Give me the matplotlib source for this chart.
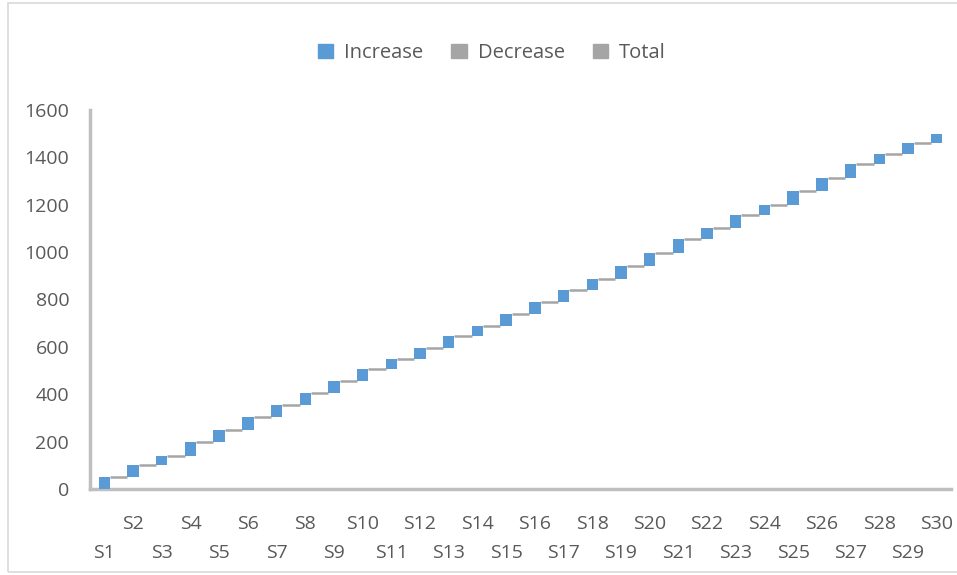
import matplotlib.pyplot as plt
import matplotlib.patches as mpatches
import numpy as np

plt.rcParams["font.family"] = ["Open Sans", "DejaVu Sans"]

# waterfall steps, one per sample
labels = ["S%d" % i for i in range(1, 31)]
increase = [50, 50, 40, 60, 50, 55, 50, 50, 50, 50,
            45, 45, 50, 45, 50, 50, 50, 45, 55, 55,
            60, 45, 55, 45, 60, 55, 55, 45, 45, 40]
y_ticks = [0, 200, 400, 600, 800, 1000, 1200, 1400, 1600]

blue = "#5B9BD5"
grey = "#A5A5A5"
text_col = "#595959"

inc = np.array(increase)
top = np.cumsum(inc)
base = top - inc
x = np.arange(len(labels))

fig = plt.figure(figsize=(9.57, 5.75), dpi=100)
ax = fig.add_axes([90 / 957, 1 - 489 / 575, 861 / 957, 379 / 575])

bar_w = 0.4
ax.bar(x, inc, bottom=base, width=bar_w, color=blue, zorder=3)

# connectors from each bar top to the next bar
for i in range(len(x) - 1):
    ax.plot([x[i] + bar_w / 2, x[i + 1] - bar_w / 2], [top[i], top[i]],
            color=grey, lw=1.8, zorder=2, solid_capstyle="butt")

ax.set_xlim(-0.5, len(x) - 0.5)
ax.set_ylim(0, 1600)
ax.set_yticks(y_ticks)
ax.tick_params(axis="y", length=0, labelsize=14, labelcolor=text_col, pad=15)
ax.set_xticks([])

# staggered category labels
for i, lab in enumerate(labels):
    ax.text(x[i], -0.092 if i % 2 == 1 else -0.168, lab,
            transform=ax.get_xaxis_transform(),
            ha="center", va="center", fontsize=14, color=text_col)

for s in ["top", "right"]:
    ax.spines[s].set_visible(False)
for s in ["left", "bottom"]:
    ax.spines[s].set_color("#BFBFBF")
    ax.spines[s].set_linewidth(2.5)

handles = [mpatches.Patch(color=blue, label="Increase"),
           mpatches.Patch(color=grey, label="Decrease"),
           mpatches.Patch(color=grey, label="Total")]
fig.legend(handles=handles, loc="center", bbox_to_anchor=(0.514, 1 - 53 / 575),
           ncol=3, frameon=False, fontsize=14.5, labelcolor=text_col,
           handlelength=0.75, handleheight=0.75, handletextpad=0.55,
           columnspacing=1.4)

fig.patches.append(mpatches.Rectangle((8 / 957, 3 / 575), 1.0, 569 / 575,
                                      transform=fig.transFigure, fill=False,
                                      edgecolor="#D9D9D9", lw=1.2))

fig.savefig("out.png", dpi=100)
